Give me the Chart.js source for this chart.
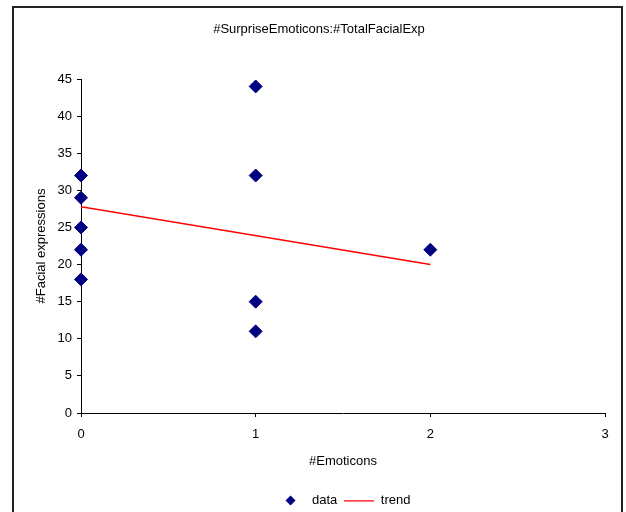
<!DOCTYPE html>
<html>
<head>
<meta charset="utf-8">
<script src="https://cdn.jsdelivr.net/npm/chart.js@4.4.1/dist/chart.umd.min.js"></script>
<style>
  html, body { margin: 0; padding: 0; background: #fff; overflow: hidden; }
  #wrap { position: relative; width: 626px; height: 512px; }
  #frame {
    position: absolute; left: 12px; top: 6px; width: 611px; height: 600px;
    box-sizing: border-box; border: 2px solid #222; border-bottom: none;
  }
  #chart { position: absolute; left: 0; top: 0; }
</style>
</head>
<body>
<div id="wrap">
  <div id="frame"></div>
  <canvas id="chart" width="626" height="512"></canvas>
</div>
<script>
const emoticons = [0, 0, 0, 0, 0, 1, 1, 1, 1, 2];
const facialExp = [32, 29, 25, 22, 18, 44, 32, 15, 11, 22];
const trendX = [0, 2];
const trendY = [27.8, 20];

const FONT = "'Liberation Sans', Arial, sans-serif";
Chart.defaults.font.family = FONT;
Chart.defaults.font.size = 13;
Chart.defaults.color = "#000";

// little legend markers
function diamondIcon() {
  const c = document.createElement("canvas");
  c.width = 11; c.height = 11;
  const g = c.getContext("2d");
  g.fillStyle = "#000080";
  g.beginPath();
  g.moveTo(5.5, 0.5); g.lineTo(10.5, 5.5); g.lineTo(5.5, 10.5); g.lineTo(0.5, 5.5);
  g.closePath(); g.fill();
  return c;
}
function lineIcon() {
  const c = document.createElement("canvas");
  c.width = 30; c.height = 2;
  const g = c.getContext("2d");
  g.fillStyle = "#ff0000";
  g.fillRect(0, 0, 30, 1.5);
  return c;
}
const icons = [diamondIcon(), lineIcon()];

new Chart(document.getElementById("chart"), {
  type: "scatter",
  data: {
    datasets: [
      {
        label: "data",
        data: emoticons.map((x, i) => ({ x: x, y: facialExp[i] })),
        backgroundColor: "#000080",
        borderColor: "#000080",
        borderWidth: 1,
        pointStyle: "rectRot",
        pointRadius: 6.5,
        pointHoverRadius: 6.5,
        clip: false
      },
      {
        label: "trend",
        type: "line",
        data: trendX.map((x, i) => ({ x: x, y: trendY[i] })),
        borderColor: "#ff0000",
        borderWidth: 1.5,
        pointRadius: 0,
        fill: false
      }
    ]
  },
  options: {
    responsive: false,
    animation: false,
    layout: { padding: { left: 12, right: 0, top: 6, bottom: -5 } },
    plugins: {
      title: {
        display: true,
        text: "#SurpriseEmoticons:#TotalFacialExp",
        font: { size: 13, weight: "normal" },
        color: "#000",
        padding: { top: 16, bottom: 41.4 }
      },
      legend: {
        position: "bottom",
        fullSize: false,
        labels: {
          usePointStyle: true,
          pointStyleWidth: 30,
          padding: 7,
          font: { size: 13 },
          color: "#000",
          generateLabels: (chart) => {
            const items = Chart.defaults.plugins.legend.labels.generateLabels(chart);
            items.forEach((it, i) => { it.pointStyle = icons[i]; });
            return items;
          }
        }
      },
      tooltip: { enabled: false }
    },
    scales: {
      x: {
        type: "linear",
        min: 0, max: 3,
        afterFit: (s) => { s.height = 74; },
        ticks: { stepSize: 1, padding: 10, font: { size: 13 }, color: "#000" },
        grid: { drawOnChartArea: false, tickLength: 4, color: "#000" },
        border: { color: "#000", width: 1 },
        title: { display: true, text: "#Emoticons", font: { size: 13 }, color: "#000", padding: { top: 0, bottom: 18 } }
      },
      y: {
        type: "linear",
        min: 0, max: 45,
        afterFit: (s) => { s.width = 69; },
        ticks: { stepSize: 5, padding: 5, font: { size: 13 }, color: "#000" },
        grid: { drawOnChartArea: false, tickLength: 4, color: "#000" },
        border: { color: "#000", width: 1 },
        title: { display: true, text: "#Facial expressions", font: { size: 13 }, color: "#000", padding: { top: 22, bottom: 0 } }
      },
      y2: {
        type: "linear",
        position: "right",
        display: true,
        afterFit: (s) => { s.width = 21; },
        ticks: { display: false },
        grid: { display: false },
        border: { display: false }
      }
    }
  }
});
</script>
</body>
</html>
